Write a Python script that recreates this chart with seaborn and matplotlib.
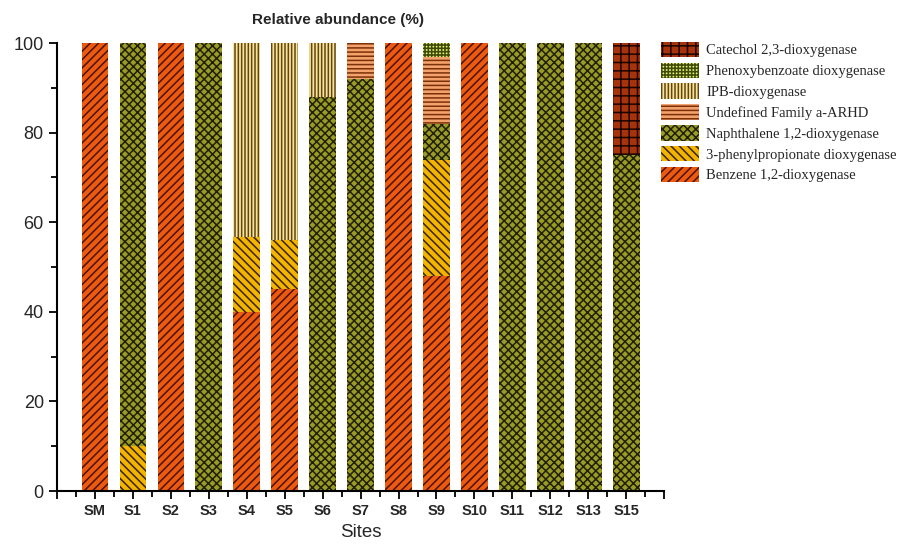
import numpy as np
import pandas as pd
import matplotlib
matplotlib.use("Agg")
import matplotlib.pyplot as plt
from matplotlib.patches import Patch
from matplotlib.ticker import MultipleLocator
import seaborn as sns

sites = ["SM", "S1", "S2", "S3", "S4", "S5", "S6", "S7", "S8", "S9",
         "S10", "S11", "S12", "S13", "S15"]

# stacked from bottom to top
benzene      = [100, 0, 100, 0, 40, 45, 0, 0, 100, 48, 100, 0, 0, 0, 0]
phenylprop   = [0, 10, 0, 0, 16.7, 11, 0, 0, 0, 26, 0, 0, 0, 0, 0]
naphthalene  = [0, 90, 0, 100, 0, 0, 88, 92, 0, 8, 0, 100, 100, 100, 75]
undefined    = [0, 0, 0, 0, 0, 0, 0, 8, 0, 15, 0, 0, 0, 0, 0]
ipb          = [0, 0, 0, 0, 43.3, 44, 12, 0, 0, 0, 0, 0, 0, 0, 0]
phenoxy      = [0, 0, 0, 0, 0, 0, 0, 0, 0, 3, 0, 0, 0, 0, 0]
catechol     = [0, 0, 0, 0, 0, 0, 0, 0, 0, 0, 0, 0, 0, 0, 25]

groups = [
    ("Benzene 1,2-dioxygenase", benzene, "#EC5A12", "#4A1200", "////"),
    ("3-phenylpropionate dioxygenase", phenylprop, "#F2B400", "#3A2400", "\\\\\\\\"),
    ("Naphthalene 1,2-dioxygenase", naphthalene, "#9A9A26", "#202002", "xxxx"),
    ("Undefined Family a-ARHD", undefined, "#F4A26C", "#7A3008", "----"),
    ("IPB-dioxygenase", ipb, "#FBE39C", "#5E4612", "|||||"),
    ("Phenoxybenzoate dioxygenase", phenoxy, "#E0EC7C", "#3E4A06", "+++++"),
    ("Catechol 2,3-dioxygenase", catechol, "#A8320A", "#1A0400", "++"),
]

sns.set_style("ticks")
plt.rcParams["hatch.linewidth"] = 1.1
plt.rcParams["font.family"] = ["Liberation Sans", "DejaVu Sans"]

fig = plt.figure(figsize=(9, 5.46), dpi=100)
ax = fig.add_axes([0.0633, 0.1007, 0.6747, 0.8203])

# cumulative tops, draw tallest first so lower layers sit on top
tops = np.cumsum([g[1] for g in groups], axis=0)
for i in range(len(groups) - 1, -1, -1):
    name, vals, face, hcol, hatch = groups[i]
    df = pd.DataFrame({"site": sites, "top": tops[i]})
    sns.barplot(data=df, x="site", y="top", color=face, width=0.7,
                saturation=1, ax=ax, edgecolor=hcol, linewidth=0)
    for bar in ax.containers[-1]:
        bar.set_hatch(hatch)
        bar.set_edgecolor(hcol)
        bar.set_linewidth(0)

ax.set_xlim(-1, 15)
ax.set_ylim(0, 100)
ax.set_xticks(range(-1, 16))
ax.set_xticklabels([""] + sites + [""], fontsize=10.5, fontweight="bold")
ax.xaxis.set_minor_locator(MultipleLocator(0.5))
ax.yaxis.set_major_locator(MultipleLocator(20))
ax.yaxis.set_minor_locator(MultipleLocator(10))
ax.tick_params(axis="y", labelsize=13)
ax.tick_params(which="major", length=6, width=1.3, direction="out", color="black")
ax.tick_params(which="minor", length=4, width=1.3, direction="out", color="black")
ax.set_xlabel("Sites", fontsize=13.5)
ax.set_ylabel("")
sns.despine(ax=ax)
for s in ["left", "bottom"]:
    ax.spines[s].set_linewidth(1.5)
    ax.spines[s].set_color("black")

fig.text(0.375, 0.963, "Relative abundance (%)", fontsize=11, fontweight="bold",
         ha="center", va="center")

handles = [Patch(facecolor=g[2], edgecolor=g[3], hatch=g[4], linewidth=0, label=g[0])
           for g in groups[::-1]]
fig.legend(handles=handles, loc="upper left", bbox_to_anchor=(0.7265, 0.937),
           frameon=False, borderpad=0, handlelength=2.6, handleheight=1.25,
           labelspacing=0.36, handletextpad=0.5,
           prop={"family": ["Liberation Serif", "DejaVu Serif"], "size": 10.5})

fig.savefig("out.png", dpi=100)
